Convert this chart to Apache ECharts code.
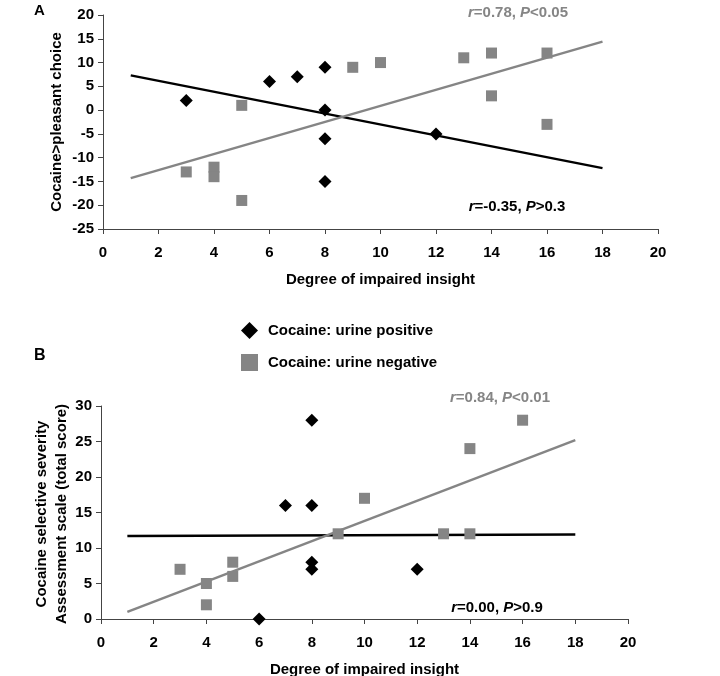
<!DOCTYPE html>
<html><head><meta charset="utf-8">
<script src="https://cdn.jsdelivr.net/npm/echarts@6/dist/echarts.min.js"></script>
<style>html,body{margin:0;padding:0;background:#fff}#c{width:720px;height:676px}</style>
</head><body><div id="c"></div>
<script>
// Panel A data
const aPosX = [3, 6, 7, 8, 8, 8, 8, 12];
const aPosY = [2, 6, 7, 9, 0, -6, -15, -5];
const aNegX = [3, 4, 4, 5, 5, 9, 10, 13, 14, 14, 16, 16];
const aNegY = [-13, -12, -14, 1, -19, 9, 10, 11, 12, 3, 12, -3];
const aPosFitX = [1, 18];
const aPosFitY = [7.3, -12.2];
const aNegFitX = [1, 18];
const aNegFitY = [-14.3, 14.4];
// Panel B data
const bPosX = [6, 7, 8, 8, 8, 8, 12];
const bPosY = [0, 16, 28, 16, 8, 7, 7];
const bNegX = [3, 4, 4, 5, 5, 9, 10, 13, 14, 14, 16];
const bNegY = [7, 5, 2, 8, 6, 12, 17, 12, 12, 24, 28];
const bPosFitX = [1, 18];
const bPosFitY = [11.7, 11.9];
const bNegFitX = [1, 18];
const bNegFitY = [1, 25.2];
const posName = 'Cocaine: urine positive';
const negName = 'Cocaine: urine negative';
const aYName = 'Cocaine>pleasant choice';
const bYName = 'Cocaine selective severity\nAssessment scale (total score)';

const zip = (xs, ys) => xs.map((x, i) => [x, ys[i]]);
const FONT = 'Liberation Sans, Arial, sans-serif';
const GRAY = '#858585';
const AX = '#444';
const FS = 15;

function xAxis(gi, gap) {
  return {
    type: 'value', gridIndex: gi, min: 0, max: 20, interval: 2,
    name: 'Degree of impaired insight', nameLocation: 'middle', nameGap: gap,
    nameTextStyle: {fontFamily: FONT, fontWeight: 'bold', fontSize: FS, color: '#000'},
    axisLine: {show: true, onZero: false, lineStyle: {color: AX, width: 1}},
    axisTick: {show: true, inside: false, length: 5, lineStyle: {color: AX}},
    axisLabel: {margin: 16, fontFamily: FONT, fontWeight: 'bold', fontSize: FS, color: '#000'},
    splitLine: {show: false}
  };
}
function yAxis(gi, min, max, interval) {
  return {
    type: 'value', gridIndex: gi, min, max, interval,
    axisLine: {show: true, onZero: false, lineStyle: {color: AX, width: 1}},
    axisTick: {show: true, inside: false, length: 5, lineStyle: {color: AX}},
    axisLabel: {margin: 9, fontFamily: FONT, fontWeight: 'bold', fontSize: FS, color: '#000'},
    splitLine: {show: false}
  };
}
function scat(name, data, gi, isPos) {
  return {
    name, type: 'scatter', xAxisIndex: gi, yAxisIndex: gi, data,
    symbol: isPos ? 'diamond' : 'rect', symbolSize: isPos ? 13 : 11,
    itemStyle: {color: isPos ? '#000' : GRAY, opacity: 1}, z: 3
  };
}
function fit(data, gi, isPos) {
  return {
    type: 'line', xAxisIndex: gi, yAxisIndex: gi, data, symbol: 'none',
    lineStyle: {color: isPos ? '#000' : GRAY, width: 2.5}, z: 2, silent: true
  };
}
function richCol(c) {
  return {
    i: {fontFamily: FONT, fontWeight: 'bold', fontStyle: 'italic', fontSize: FS, fill: c},
    n: {fontFamily: FONT, fontWeight: 'bold', fontSize: FS, fill: c}
  };
}
function ann(text, x, y, c) {
  return {type: 'text', x, y, style: {text, rich: richCol(c), fill: c, align: 'center', verticalAlign: 'middle', fontFamily: FONT, fontSize: FS}};
}
function vName(text, x, y) {
  return {type: 'text', x, y, rotation: Math.PI / 2,
    style: {text, fill: '#000', align: 'center', verticalAlign: 'middle', fontFamily: FONT, fontWeight: 'bold', fontSize: FS, lineHeight: 20}};
}

const chart = echarts.init(document.getElementById('c'), null, {renderer: 'canvas'});
chart.setOption({
  animation: false,
  backgroundColor: '#fff',
  grid: [
    {left: 103, right: 62, top: 15, bottom: 447, containLabel: false, outerBoundsMode: 'none'},
    {left: 101, right: 92, top: 406, bottom: 57, containLabel: false, outerBoundsMode: 'none'}
  ],
  xAxis: [xAxis(0, 43), xAxis(1, 43)],
  yAxis: [yAxis(0, -25, 20, 5), yAxis(1, 0, 30, 5)],
  legend: {
    orient: 'vertical', left: 241, top: 322, padding: 0, itemGap: 15, itemWidth: 17, itemHeight: 17,
    data: [{name: posName, icon: 'diamond'}, {name: negName, icon: 'rect'}],
    textStyle: {fontFamily: FONT, fontWeight: 'bold', fontSize: FS, color: '#000', padding: [0, 0, 0, 5]}
  },
  graphic: [
    {type: 'text', left: 34, top: 3, style: {text: 'A', fontFamily: FONT, fontWeight: 'bold', fontSize: 15, fill: '#000'}},
    {type: 'text', left: 34, top: 348, style: {text: 'B', fontFamily: FONT, fontWeight: 'bold', fontSize: 16, fill: '#000'}},
    vName(aYName, 57, 122),
    vName(bYName, 52, 514),
    ann('{i|r}{n|=0.78, }{i|P}{n|<0.05}', 518, 13, GRAY),
    ann('{i|r}{n|=-0.35, }{i|P}{n|>0.3}', 517, 207, '#000'),
    ann('{i|r}{n|=0.84, }{i|P}{n|<0.01}', 500, 398, GRAY),
    ann('{i|r}{n|=0.00, }{i|P}{n|>0.9}', 497, 608, '#000')
  ],
  series: [
    fit(zip(aPosFitX, aPosFitY), 0, true),
    fit(zip(aNegFitX, aNegFitY), 0, false),
    scat(posName, zip(aPosX, aPosY), 0, true),
    scat(negName, zip(aNegX, aNegY), 0, false),
    fit(zip(bPosFitX, bPosFitY), 1, true),
    fit(zip(bNegFitX, bNegFitY), 1, false),
    scat(posName, zip(bPosX, bPosY), 1, true),
    scat(negName, zip(bNegX, bNegY), 1, false)
  ]
});
</script></body></html>
